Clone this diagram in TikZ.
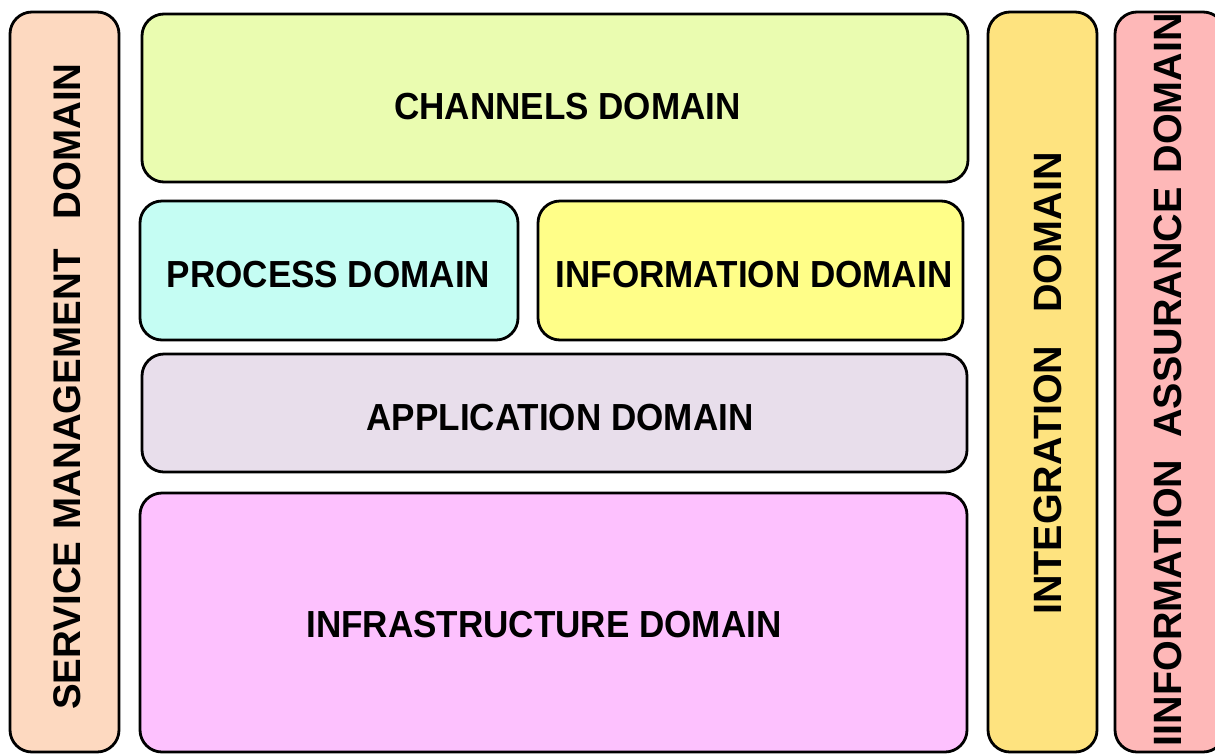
\documentclass[tikz,border=0pt]{standalone}
\usepackage{fontspec}
\setmainfont{Liberation Sans}
\definecolor{svc}{RGB}{253,217,192}
\definecolor{chan}{RGB}{234,252,176}
\definecolor{proc}{RGB}{197,253,243}
\definecolor{info}{RGB}{255,254,136}
\definecolor{appl}{RGB}{232,222,235}
\definecolor{infra}{RGB}{253,193,254}
\definecolor{integ}{RGB}{254,227,127}
\definecolor{iassur}{RGB}{254,184,184}
\begin{document}
\begin{tikzpicture}[x=1pt, y=-1pt,
  domainbox/.style={draw=black, line width=2.8pt, rounded corners=22pt, inner sep=0pt, outer sep=0pt},
  htext/.style={font=\fontsize{37.7}{40}\selectfont\bfseries, inner sep=0pt, anchor=base, xscale=0.93},
  vtext/.style={font=\fontsize{39.5}{42}\selectfont\bfseries, inner sep=0pt, rotate=90}]
\clip (0,0) rectangle (1215,753);
\fill[white] (0,0) rectangle (1215,753);
% boxes
\node[domainbox, fill=svc, minimum width=109pt, minimum height=740pt] (svcbox) at (64.5,382) {};
\node[domainbox, fill=chan, minimum width=826pt, minimum height=168pt] (chanbox) at (555,98) {};
\node[domainbox, fill=proc, minimum width=378pt, minimum height=139pt] (procbox) at (329,270.5) {};
\node[domainbox, fill=info, minimum width=425pt, minimum height=139pt] (infobox) at (750.5,270.5) {};
\node[domainbox, fill=appl, minimum width=825pt, minimum height=118pt] (applbox) at (554.5,413) {};
\node[domainbox, fill=infra, minimum width=827pt, minimum height=259pt] (infrabox) at (553.5,622.5) {};
\node[domainbox, fill=integ, minimum width=109pt, minimum height=740pt] (integbox) at (1042.5,382) {};
\node[domainbox, fill=iassur, minimum width=110pt, minimum height=740pt] (iabox) at (1170,382) {};
% horizontal labels
\node[htext] (chanlbl) at (567.5,119) {CHANNELS DOMAIN};
\node[htext] (proclbl) at (328.5,287) {PROCESS DOMAIN};
\node[htext] (infolbl) at (754,287) {INFORMATION DOMAIN};
\node[htext] (appllbl) at (560,430) {APPLICATION DOMAIN};
\node[htext] (infralbl) at (544,637) {INFRASTRUCTURE DOMAIN};
% vertical labels
\node[vtext, font=\fontsize{38.5}{42}\selectfont\bfseries, anchor=base west] (svclbl) at (80.5,710) {SERVICE\hspace{12pt}MANAGEMENT\hspace{30pt}DOMAIN};
\node[vtext, anchor=base west] (integlbl) at (1061,615) {INTEGRATION\hspace{33pt}DOMAIN};
\node[vtext, anchor=base east] (ialbl) at (1181,13) {IINFORMATION\hspace{22pt}ASSURANCE\hspace{14pt}DOMAIN};
\end{tikzpicture}
\end{document}
